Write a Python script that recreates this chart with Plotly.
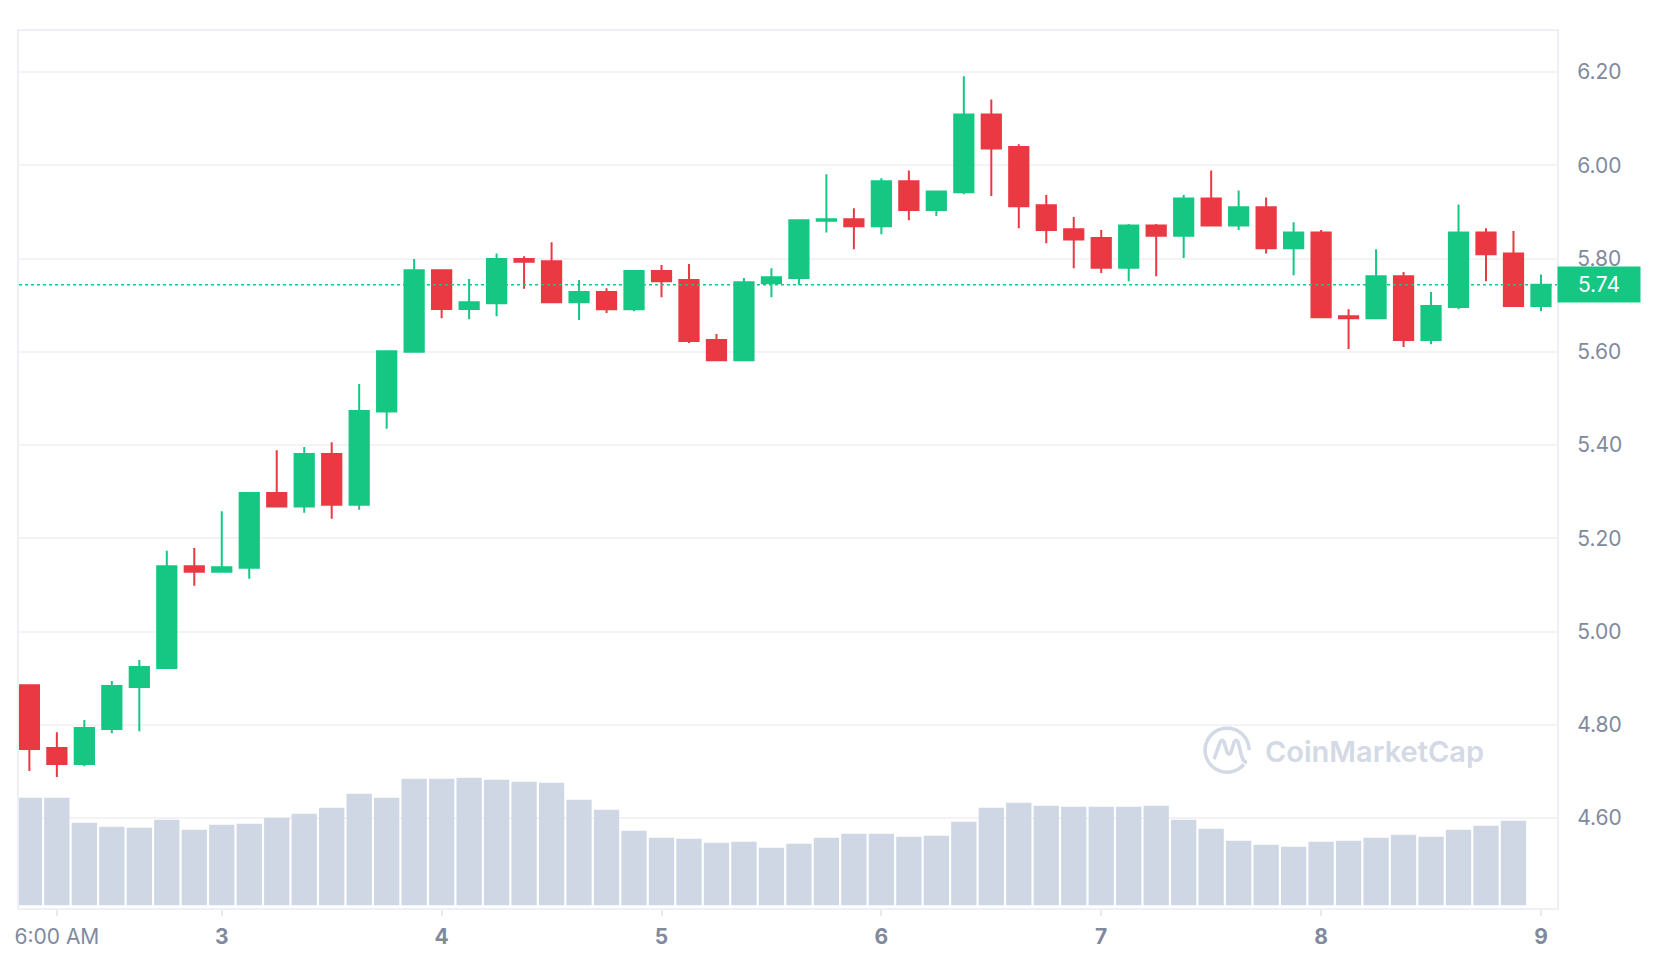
import numpy as np
import pandas as pd
import plotly.graph_objects as go

# ---------------- data ----------------
start_time = "2024-06-02 03:00"
n_candles = 56
times = pd.date_range(start_time, periods=n_candles, freq="3h")

open_ = [4.885, 4.750, 4.716, 4.791, 4.881, 4.922, 5.140, 5.128, 5.137, 5.297,
         5.268, 5.381, 5.272, 5.472, 5.600, 5.775, 5.692, 5.704, 5.799, 5.794,
         5.706, 5.728, 5.691, 5.773, 5.754, 5.625, 5.582, 5.747, 5.758, 5.881,
         5.884, 5.869, 5.966, 5.904, 5.942, 6.109, 6.039, 5.914, 5.863, 5.844,
         5.780, 5.871, 5.849, 5.929, 5.871, 5.910, 5.822, 5.856, 5.676, 5.672,
         5.762, 5.625, 5.696, 5.856, 5.811, 5.698]
high = [4.887, 4.784, 4.810, 4.894, 4.939, 5.173, 5.179, 5.258, 5.299, 5.389,
        5.396, 5.406, 5.531, 5.602, 5.799, 5.776, 5.756, 5.811, 5.805, 5.835,
        5.754, 5.736, 5.775, 5.786, 5.788, 5.638, 5.758, 5.779, 5.883, 5.981,
        5.908, 5.972, 5.989, 5.945, 6.191, 6.141, 6.045, 5.936, 5.889, 5.861,
        5.874, 5.874, 5.936, 5.989, 5.946, 5.931, 5.878, 5.861, 5.691, 5.820,
        5.771, 5.728, 5.916, 5.865, 5.859, 5.766]
low = [4.701, 4.688, 4.711, 4.782, 4.786, 4.920, 5.098, 5.126, 5.113, 5.267,
       5.255, 5.242, 5.261, 5.435, 5.598, 5.672, 5.670, 5.676, 5.735, 5.705,
       5.668, 5.683, 5.687, 5.717, 5.619, 5.581, 5.581, 5.717, 5.743, 5.856,
       5.820, 5.852, 5.882, 5.891, 5.938, 5.934, 5.865, 5.833, 5.779, 5.769,
       5.751, 5.762, 5.801, 5.870, 5.861, 5.811, 5.764, 5.672, 5.606, 5.671,
       5.610, 5.616, 5.691, 5.751, 5.696, 5.687]
close = [4.748, 4.716, 4.793, 4.883, 4.924, 5.140, 5.128, 5.138, 5.297, 5.268,
         5.381, 5.272, 5.473, 5.601, 5.775, 5.692, 5.706, 5.799, 5.793, 5.706,
         5.728, 5.691, 5.773, 5.751, 5.623, 5.582, 5.749, 5.760, 5.882, 5.884,
         5.869, 5.966, 5.904, 5.944, 6.109, 6.036, 5.912, 5.861, 5.841, 5.780,
         5.871, 5.849, 5.929, 5.871, 5.910, 5.822, 5.856, 5.674, 5.672, 5.762,
         5.625, 5.698, 5.856, 5.809, 5.698, 5.744]

volume = [32.3, 32.3, 24.8, 23.6, 23.3, 25.7, 22.7, 24.2, 24.5, 26.3,
          27.5, 29.3, 33.5, 32.3, 38.0, 38.0, 38.3, 37.7, 37.1, 36.8,
          31.7, 28.7, 22.4, 20.3, 20.0, 18.8, 19.1, 17.3, 18.5, 20.3,
          21.5, 21.5, 20.6, 20.9, 25.1, 29.3, 30.8, 29.9, 29.6, 29.6,
          29.6, 29.9, 25.7, 23.0, 19.4, 18.2, 17.6, 19.1, 19.4, 20.3,
          21.2, 20.6, 22.7, 23.9, 25.4]

tick_times = ["2024-06-02 06:00", "2024-06-03", "2024-06-04", "2024-06-05",
              "2024-06-06", "2024-06-07", "2024-06-08", "2024-06-09"]
tick_text = ["6:00 AM", "<b>3</b>", "<b>4</b>", "<b>5</b>", "<b>6</b>",
             "<b>7</b>", "<b>8</b>", "<b>9</b>"]
price_ticks = [4.60, 4.80, 5.00, 5.20, 5.40, 5.60, 5.80, 6.00, 6.20]

last_price = close[-1]

# ---------------- style ----------------
GREEN = "#16c784"
RED = "#ea3943"
VOL = "#cfd6e4"
WM = "#d3d9e5"
BORDER = "#eef0f5"
GRID = "#f3f3f5"
LABEL = "#808a9d"
FONT = "Inter"
FS = 21

fig = go.Figure()

fig.add_trace(go.Bar(
    x=times[:len(volume)], y=volume, yaxis="y",
    marker=dict(color=VOL, line=dict(width=0)),
    hoverinfo="skip", showlegend=False,
))

fig.add_trace(go.Candlestick(
    x=times, open=open_, high=high, low=low, close=close, yaxis="y2",
    increasing=dict(line=dict(color=GREEN, width=2), fillcolor=GREEN),
    decreasing=dict(line=dict(color=RED, width=2), fillcolor=RED),
    whiskerwidth=0, showlegend=False,
))

# latest price dashed line and label
fig.add_shape(type="line", xref="paper", x0=0, x1=1, yref="y2",
              y0=last_price, y1=last_price,
              line=dict(color=GREEN, width=1.5, dash="3px,3px"))
fig.add_annotation(x=1, xref="paper", xanchor="left", y=last_price, yref="y2",
                   yanchor="middle", text=f"{last_price:.2f}",
                   showarrow=False, bgcolor=GREEN, width=78, height=31,
                   borderpad=2, align="center",
                   font=dict(family=FONT, size=FS, color="white"))

# watermark
fig.add_annotation(x=0.8814, y=0.178, xref="paper", yref="paper",
                   xanchor="center", yanchor="middle",
                   text="CoinMarketCap", showarrow=False,
                   font=dict(family=FONT, size=29, color=WM, weight=600))
ang = np.linspace(np.radians(-40), np.radians(-40 - 320), 70)
ring = "M " + " L ".join(f"{22*np.cos(a):.2f},{22*np.sin(a):.2f}" for a in ang)
m_path = "M -13,-9 L -7,8 Q -5,12 -3,8 L 0,-2 Q 2,-6 4,-2 L 7,8 Q 9,12 11,8 L 13,0 Q 15,-12 20,-12"
for p in (ring, m_path):
    fig.add_shape(type="path", xref="paper", yref="paper",
                  xsizemode="pixel", ysizemode="pixel",
                  xanchor=0.7855, yanchor=0.1800, path=p,
                  line=dict(color=WM, width=3.5))

fig.update_layout(
    width=1664, height=968,
    margin=dict(l=19, r=107, t=31, b=60, autoexpand=False),
    paper_bgcolor="white", plot_bgcolor="white",
    font=dict(family=FONT, color=LABEL),
    bargap=0.08, boxgap=0.3, boxgroupgap=0,
    showlegend=False,
    xaxis=dict(
        type="date", range=["2024-06-02 01:52", "2024-06-09 01:45"],
        tickvals=tick_times, ticktext=tick_text,
        ticks="outside", ticklen=6, tickwidth=1.5, tickcolor="#e8eaf0",
        ticklabelstandoff=3,
        showline=True, linecolor=BORDER, linewidth=2, mirror=True,
        showgrid=False, zeroline=False, automargin=False,
        rangeslider=dict(visible=False),
        tickfont=dict(family=FONT, size=FS, color=LABEL),
    ),
    yaxis=dict(range=[-0.8, 262.3], visible=False, fixedrange=True),
    yaxis2=dict(
        overlaying="y", anchor="x", side="right",
        range=[4.407, 6.288], tickvals=price_ticks, tickformat=".2f",
        showgrid=True, gridcolor=GRID, gridwidth=1.5,
        showline=True, linecolor=BORDER, linewidth=2, mirror=True,
        ticks="", ticklabelstandoff=14, zeroline=False, automargin=False,
        tickfont=dict(family=FONT, size=FS, color=LABEL),
    ),
)

fig.write_html("out.html", config={"displayModeBar": False},
               post_script="document.body.style.margin='0';document.body.style.overflow='hidden';")
